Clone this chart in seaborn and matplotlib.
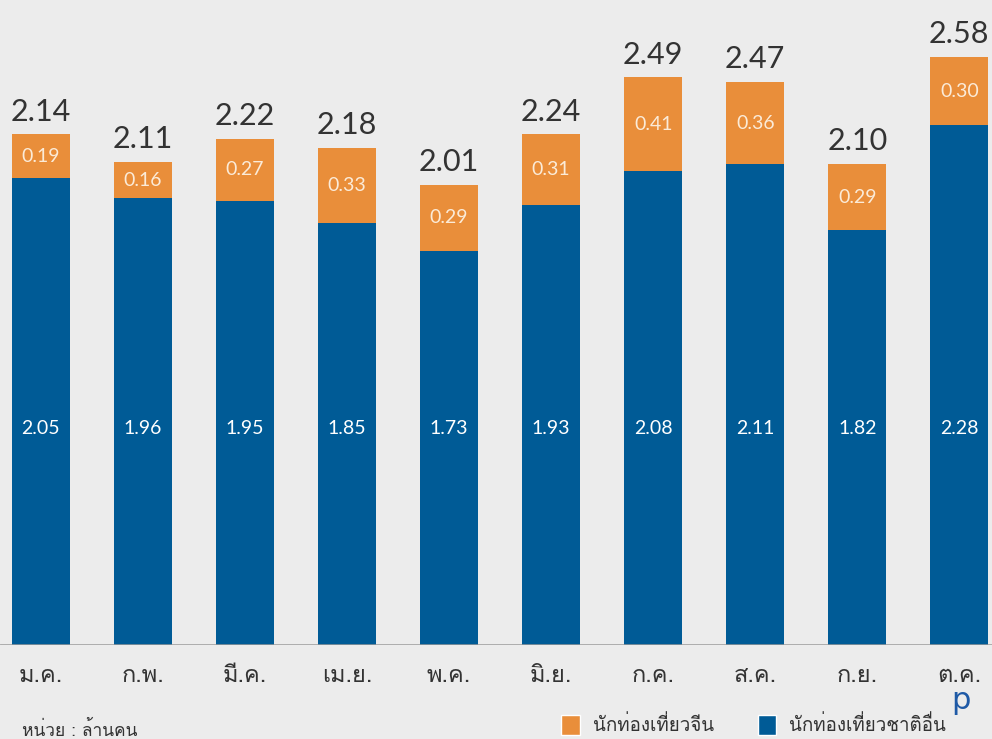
import matplotlib
matplotlib.use("Agg")
import matplotlib.pyplot as plt
from matplotlib import font_manager
from matplotlib.ft2font import FT2Font
from matplotlib.patches import Patch
import seaborn as sns

months = ["ม.ค.", "ก.พ.", "มี.ค.", "เม.ย.", "พ.ค.", "มิ.ย.", "ก.ค.", "ส.ค.", "ก.ย.", "ต.ค."]
chinese = [0.19, 0.16, 0.27, 0.33, 0.29, 0.31, 0.41, 0.36, 0.29, 0.30]
others = [2.05, 1.96, 1.95, 1.85, 1.73, 1.93, 2.08, 2.11, 1.82, 2.28]
total_labels = ["2.14", "2.11", "2.22", "2.18", "2.01", "2.24", "2.49", "2.47", "2.10", "2.58"]
legend_labels = ["นักท่องเที่ยวจีน", "นักท่องเที่ยวชาติอื่น"]
unit_text = "หน่วย : ล้านคน"

ORANGE = "#E98E3A"
BLUE = "#005B96"
BG = "#ECECEC"
DARK = "#333333"


def find_thai_font():
    # look for any installed font that has Thai glyphs
    for f in font_manager.fontManager.ttflist:
        try:
            if 0x0E01 in FT2Font(f.fname).get_charmap():
                return f.name
        except Exception:
            pass
    return None


sns.set_style("white")
thai = find_thai_font()
fams = [thai, "DejaVu Sans"] if thai else ["DejaVu Sans"]
plt.rcParams["font.family"] = fams
NUM_FONT = ["Lato", "DejaVu Sans"]

stacked = [o + c for o, c in zip(others, chinese)]

fig = plt.figure(figsize=(9.92, 7.39), dpi=100, facecolor=BG)
ax = fig.add_axes([0, 94 / 739, 1, 1 - 94 / 739])
ax.set_facecolor(BG)

sns.barplot(x=months, y=stacked, color=ORANGE, saturation=1, width=0.57,
            linewidth=0, ax=ax)
sns.barplot(x=months, y=others, color=BLUE, saturation=1, width=0.57,
            linewidth=0, ax=ax)

for i in range(len(months)):
    ax.text(i, stacked[i] + 0.06, total_labels[i], ha="center", va="baseline",
            fontsize=22, color=DARK, family=NUM_FONT)
    ax.text(i, others[i] + chinese[i] / 2, f"{chinese[i]:.2f}", ha="center", va="center",
            fontsize=14, color="#FBEBD8", family=NUM_FONT)
    ax.text(i, 0.95, f"{others[i]:.2f}", ha="center", va="center",
            fontsize=14, color="white", family=NUM_FONT)

ax.axhline(0, color="#9A9A9A", lw=1.8, zorder=5)
ax.set_xlim(-0.40, 9.32)
ax.set_ylim(0, 2.83)
ax.set_yticks([])
ax.set_xlabel("")
ax.set_ylabel("")
ax.tick_params(axis="x", length=0, pad=14, labelsize=17, labelcolor=DARK)
sns.despine(ax=ax, left=True, bottom=True)

fig.text(0.022, 0.012, unit_text, fontsize=12.5, color=DARK, ha="left", va="center")
fig.text(0.969, 0.052, "p", fontsize=22, color="#1F5AA6", ha="center", va="center",
         family="DejaVu Sans")

handles = [Patch(facecolor=ORANGE), Patch(facecolor=BLUE)]
fig.legend(handles, legend_labels, loc="lower left", bbox_to_anchor=(0.549, -0.018),
           ncol=2, frameon=False, fontsize=13.5, handlelength=1.0, handleheight=1.2,
           handletextpad=0.7, columnspacing=2.3, labelcolor=DARK)

fig.savefig("out.png", dpi=100, facecolor=BG)
plt.close(fig)
